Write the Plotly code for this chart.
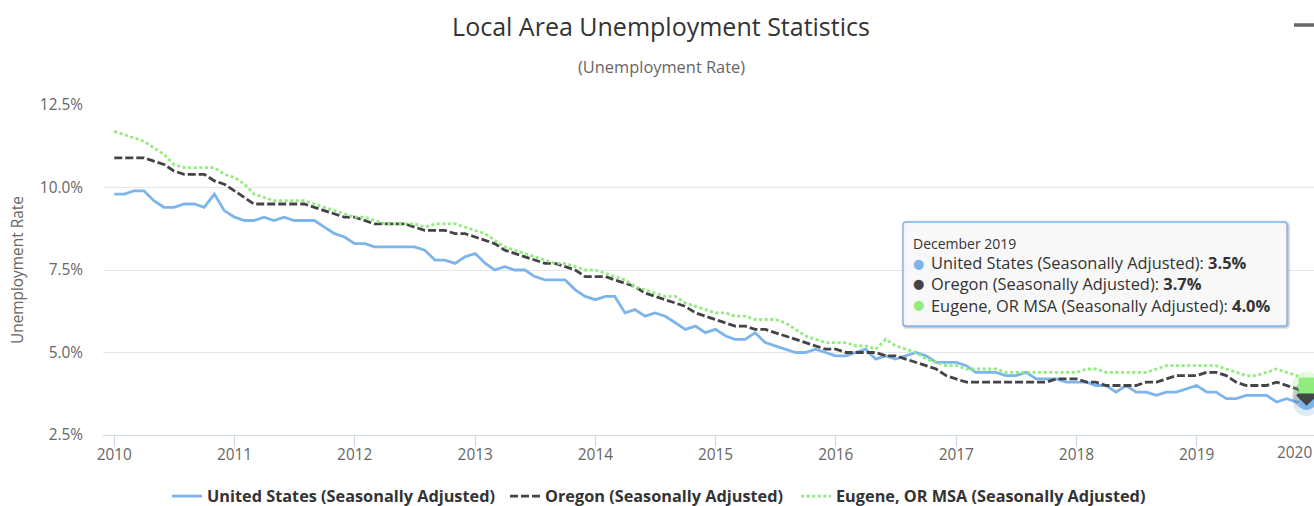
import pandas as pd
import plotly.graph_objects as go

# Monthly observations, Jan 2010 - Dec 2019
months = pd.date_range("2010-01-01", periods=120, freq="MS")

us_rate = [
    9.8, 9.8, 9.9, 9.9, 9.6, 9.4, 9.4, 9.5, 9.5, 9.4, 9.8, 9.3,   # 2010
    9.1, 9.0, 9.0, 9.1, 9.0, 9.1, 9.0, 9.0, 9.0, 8.8, 8.6, 8.5,   # 2011
    8.3, 8.3, 8.2, 8.2, 8.2, 8.2, 8.2, 8.1, 7.8, 7.8, 7.7, 7.9,   # 2012
    8.0, 7.7, 7.5, 7.6, 7.5, 7.5, 7.3, 7.2, 7.2, 7.2, 6.9, 6.7,   # 2013
    6.6, 6.7, 6.7, 6.2, 6.3, 6.1, 6.2, 6.1, 5.9, 5.7, 5.8, 5.6,   # 2014
    5.7, 5.5, 5.4, 5.4, 5.6, 5.3, 5.2, 5.1, 5.0, 5.0, 5.1, 5.0,   # 2015
    4.9, 4.9, 5.0, 5.1, 4.8, 4.9, 4.8, 4.9, 5.0, 4.9, 4.7, 4.7,   # 2016
    4.7, 4.6, 4.4, 4.4, 4.4, 4.3, 4.3, 4.4, 4.2, 4.2, 4.2, 4.1,   # 2017
    4.1, 4.1, 4.0, 4.0, 3.8, 4.0, 3.8, 3.8, 3.7, 3.8, 3.8, 3.9,   # 2018
    4.0, 3.8, 3.8, 3.6, 3.6, 3.7, 3.7, 3.7, 3.5, 3.6, 3.5, 3.5,   # 2019
]

oregon_rate = [
    10.9, 10.9, 10.9, 10.9, 10.8, 10.7, 10.5, 10.4, 10.4, 10.4, 10.2, 10.1,  # 2010
    9.9, 9.7, 9.5, 9.5, 9.5, 9.5, 9.5, 9.5, 9.4, 9.3, 9.2, 9.1,            # 2011
    9.1, 9.0, 8.9, 8.9, 8.9, 8.9, 8.8, 8.7, 8.7, 8.7, 8.6, 8.6,            # 2012
    8.5, 8.4, 8.3, 8.1, 8.0, 7.9, 7.8, 7.7, 7.7, 7.6, 7.5, 7.3,            # 2013
    7.3, 7.3, 7.2, 7.1, 7.0, 6.8, 6.7, 6.6, 6.5, 6.4, 6.2, 6.1,            # 2014
    6.0, 5.9, 5.8, 5.8, 5.7, 5.7, 5.6, 5.5, 5.4, 5.3, 5.2, 5.1,            # 2015
    5.1, 5.0, 5.0, 5.0, 5.0, 4.9, 4.9, 4.8, 4.7, 4.6, 4.5, 4.3,            # 2016
    4.2, 4.1, 4.1, 4.1, 4.1, 4.1, 4.1, 4.1, 4.1, 4.1, 4.2, 4.2,            # 2017
    4.2, 4.1, 4.1, 4.0, 4.0, 4.0, 4.0, 4.1, 4.1, 4.2, 4.3, 4.3,            # 2018
    4.3, 4.4, 4.4, 4.3, 4.1, 4.0, 4.0, 4.0, 4.1, 4.0, 3.9, 3.7,            # 2019
]

eugene_rate = [
    11.7, 11.6, 11.5, 11.4, 11.2, 11.0, 10.7, 10.6, 10.6, 10.6, 10.6, 10.4,  # 2010
    10.3, 10.1, 9.8, 9.7, 9.6, 9.6, 9.6, 9.6, 9.5, 9.4, 9.3, 9.2,          # 2011
    9.1, 9.1, 9.0, 8.9, 8.9, 8.9, 8.9, 8.8, 8.9, 8.9, 8.9, 8.8,            # 2012
    8.7, 8.6, 8.4, 8.2, 8.1, 8.0, 7.9, 7.8, 7.7, 7.7, 7.6, 7.5,            # 2013
    7.5, 7.4, 7.3, 7.2, 7.0, 6.9, 6.8, 6.7, 6.7, 6.5, 6.4, 6.3,            # 2014
    6.2, 6.2, 6.1, 6.1, 6.0, 6.0, 6.0, 5.9, 5.7, 5.5, 5.4, 5.3,            # 2015
    5.3, 5.3, 5.2, 5.2, 5.1, 5.4, 5.2, 5.1, 5.0, 4.8, 4.7, 4.6,            # 2016
    4.6, 4.5, 4.5, 4.5, 4.5, 4.4, 4.4, 4.4, 4.4, 4.4, 4.4, 4.4,            # 2017
    4.4, 4.5, 4.5, 4.4, 4.4, 4.4, 4.4, 4.4, 4.5, 4.6, 4.6, 4.6,            # 2018
    4.6, 4.6, 4.6, 4.5, 4.4, 4.3, 4.3, 4.4, 4.5, 4.4, 4.3, 4.0,            # 2019
]

series_names = [
    "United States (Seasonally Adjusted)",
    "Oregon (Seasonally Adjusted)",
    "Eugene, OR MSA (Seasonally Adjusted)",
]
series_values = [us_rate, oregon_rate, eugene_rate]
series_colors = ["#7cb5ec", "#434348", "#90ed7d"]
series_dash = ["solid", "8px,3px", "3px,2.6px"]
hover_symbols = ["circle", "diamond", "square"]

year_ticks = [pd.Timestamp(f"{y}-01-01") for y in range(2010, 2020)]
year_labels = [str(y) for y in range(2010, 2020)]

# ---- page geometry (pixels) ----
W, H = 1314, 506
PL, PR, PT, PB = 103, 1314, 105, 435
FONT = "Open Sans, DejaVu Sans, sans-serif"


def fx(px):
    return (px - PL) / (PR - PL)


def fy(py):
    return (PB - py) / (PB - PT)


fig = go.Figure()

legend_ids = ["legend", "legend2", "legend3"]
for name, vals, col, dash, lg in zip(series_names, series_values, series_colors,
                                      series_dash, legend_ids):
    fig.add_trace(go.Scatter(
        x=months, y=vals, name=name, mode="lines",
        line=dict(color=col, width=2.8, dash=dash),
        legend=lg,
    ))

# hover halo + hover markers on the December 2019 point
last_x = months[-1]
for vals, col in zip(series_values, series_colors):
    fig.add_trace(go.Scatter(
        x=[last_x], y=[vals[-1]], mode="markers", showlegend=False,
        marker=dict(size=28, color=col, opacity=0.25, line=dict(width=0)),
        hoverinfo="skip",
    ))
for vals, col, sym in zip(series_values, series_colors, hover_symbols):
    fig.add_trace(go.Scatter(
        x=[last_x], y=[vals[-1]], mode="markers", showlegend=False,
        marker=dict(size=16, color=col, symbol=sym, line=dict(width=0)),
        hoverinfo="skip",
    ))

# ---- tooltip box ----
bx0, by0, bx1, by1, r = 903, 222, 1287, 326, 3


def rounded_rect(x0, y0, x1, y1, rad):
    pts = [
        f"M{fx(x0 + rad)},{fy(y0)}",
        f"L{fx(x1 - rad)},{fy(y0)}",
        f"Q{fx(x1)},{fy(y0)} {fx(x1)},{fy(y0 + rad)}",
        f"L{fx(x1)},{fy(y1 - rad)}",
        f"Q{fx(x1)},{fy(y1)} {fx(x1 - rad)},{fy(y1)}",
        f"L{fx(x0 + rad)},{fy(y1)}",
        f"Q{fx(x0)},{fy(y1)} {fx(x0)},{fy(y1 - rad)}",
        f"L{fx(x0)},{fy(y0 + rad)}",
        f"Q{fx(x0)},{fy(y0)} {fx(x0 + rad)},{fy(y0)}",
        "Z",
    ]
    return " ".join(pts)


shapes = []
for off, alpha, lw in [(1, 0.05, 5), (1, 0.10, 3), (1, 0.15, 1)]:
    shapes.append(dict(
        type="path", xref="paper", yref="paper", layer="above",
        path=rounded_rect(bx0 + off, by0 + off, bx1 + off, by1 + off, r),
        line=dict(color=f"rgba(0,0,0,{alpha})", width=lw),
        fillcolor="rgba(0,0,0,0)",
    ))
shapes.append(dict(
    type="path", xref="paper", yref="paper", layer="above",
    path=rounded_rect(bx0, by0, bx1, by1, r),
    line=dict(color="#7cb5ec", width=1.4),
    fillcolor="rgba(247,247,247,0.92)",
))
# export menu glyph in the top-right corner
shapes.append(dict(
    type="line", xref="paper", yref="paper",
    x0=fx(1294), x1=fx(1320), y0=fy(25), y1=fy(25),
    line=dict(color="#666666", width=3.5),
))

annotations = []
# tooltip header
annotations.append(dict(
    xref="paper", yref="paper", x=fx(911), y=fy(243),
    xanchor="left", yanchor="middle", showarrow=False,
    text=last_x.strftime("%B %Y"),
    font=dict(family=FONT, size=14, color="#333333"),
))
# tooltip rows: one colored bullet per series plus a single multi-line text block
row_y = [263, 283.9, 304.8]
for vals, col, ry in zip(series_values, series_colors, row_y):
    annotations.append(dict(
        xref="paper", yref="paper", x=fx(918.5), y=fy(ry),
        xanchor="center", yanchor="middle", showarrow=False,
        text="●", font=dict(family="DejaVu Sans", size=13, color=col),
    ))
tooltip_rows = [f"{name}: <b>{vals[-1]:.1f}%</b>"
                for name, vals in zip(series_names, series_values)]
annotations.append(dict(
    xref="paper", yref="paper", x=fx(929), y=fy(sum(row_y) / 3),
    xanchor="left", yanchor="middle", align="left", showarrow=False,
    text="<br>".join(tooltip_rows),
    font=dict(family=FONT, size=16.4, color="#333333"),
))

# subtitle
annotations.append(dict(
    xref="paper", yref="paper", x=fx(661.5), y=fy(67),
    xanchor="center", yanchor="middle", showarrow=False,
    text="(Unemployment Rate)",
    font=dict(family=FONT, size=16.4, color="#666666"),
))
# y-axis title
annotations.append(dict(
    xref="paper", yref="paper", x=fx(17), y=fy(270),
    xanchor="center", yanchor="middle", showarrow=False, textangle=-90,
    text="Unemployment Rate",
    font=dict(family=FONT, size=15.4, color="#666666"),
))
# last year label, justified inside the chart edge
annotations.append(dict(
    xref="paper", yref="paper", x=fx(1314), y=fy(453),
    xanchor="right", yanchor="middle", showarrow=False,
    text="2020",
    font=dict(family=FONT, size=15.4, color="#666666"),
))

legend_text_x = [207, 545, 836]
legend_common = dict(
    orientation="h", xanchor="left", yanchor="middle", yref="paper", xref="paper",
    bgcolor="rgba(0,0,0,0)", borderwidth=0, itemwidth=30,
    font=dict(family=FONT, size=16.3, color="#333333", weight="bold"),
)
legends = {}
for lg, tx in zip(legend_ids, legend_text_x):
    legends[lg] = dict(legend_common, x=fx(tx - 40), y=fy(496.5))

fig.update_layout(
    width=W, height=H,
    margin=dict(l=PL, r=W - PR, t=PT, b=H - PB, pad=0, autoexpand=False),
    paper_bgcolor="#ffffff", plot_bgcolor="#ffffff",
    title=dict(
        text="Local Area Unemployment Statistics",
        x=661 / W, xanchor="center", xref="container",
        y=1 - 27 / H, yanchor="middle", yref="container",
        font=dict(family=FONT, size=25, color="#333333"),
    ),
    xaxis=dict(
        type="date",
        range=["2009-11-27 17:00", "2019-12-23 10:00"],
        tickvals=year_ticks, ticktext=year_labels,
        ticks="outside", ticklen=11, tickwidth=1, tickcolor="#ccd6eb",
        showline=True, linecolor="#ccd6eb", linewidth=1,
        showgrid=False, zeroline=False,
        ticklabelstandoff=-5,
        tickfont=dict(family=FONT, size=15.4, color="#666666"),
    ),
    yaxis=dict(
        range=[2.5, 12.5], tick0=2.5, dtick=2.5,
        tickformat=".1f", ticksuffix="%",
        showgrid=True, gridcolor="#e6e6e6", gridwidth=1,
        zeroline=False, showline=False, ticks="",
        ticklabelstandoff=19,
        tickfont=dict(family=FONT, size=15.4, color="#666666"),
    ),
    shapes=shapes,
    annotations=annotations,
    hovermode=False,
    **legends,
)

fig.write_html("out.html")
